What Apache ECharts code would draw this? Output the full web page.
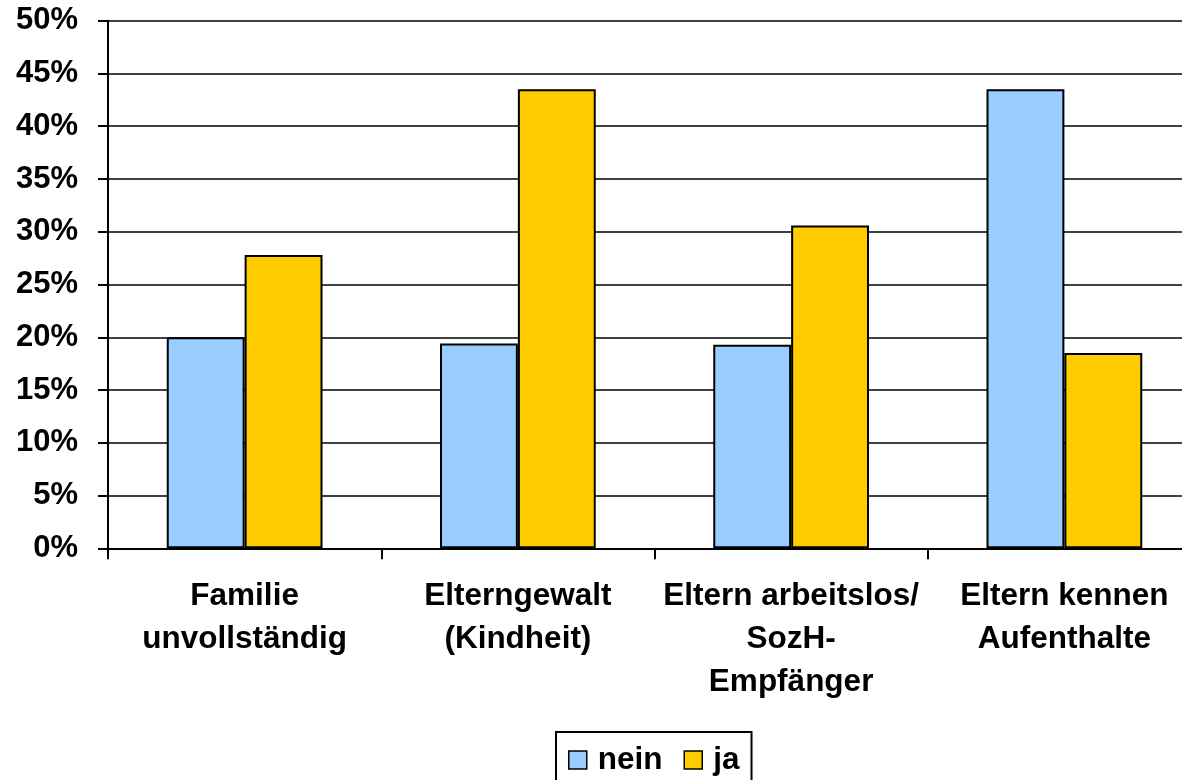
<!DOCTYPE html>
<html>
<head>
<meta charset="utf-8">
<script src="https://cdn.jsdelivr.net/npm/echarts@6/dist/echarts.min.js"></script>
<style>
  html, body { margin: 0; padding: 0; background: #fff; }
  #chart { width: 1182px; height: 780px; }
</style>
</head>
<body>
<div id="chart"></div>
<script>
var categories = ['Familie\nunvollständig', 'Elterngewalt\n(Kindheit)', 'Eltern arbeitslos/\nSozH-\nEmpfänger', 'Eltern kennen\nAufenthalte']
var neinValues = [20.0, 19.4, 19.3, 43.5]
var jaValues = [27.8, 43.5, 30.6, 18.5]
var seriesNames = ['nein', 'ja']

var font = "'Liberation Sans', Arial, sans-serif"
var myChart = echarts.init(document.getElementById('chart'))
var option = {
  animation: false,
  grid: {
    left: 108,
    width: 1093,
    top: 20.7,
    bottom: 231.7,
    containLabel: false,
    outerBoundsMode: 'none'
  },
  legend: {
    data: seriesNames,
    left: 556,
    top: 732,
    orient: 'horizontal',
    icon: 'rect',
    itemWidth: 18,
    itemHeight: 18,
    itemGap: 21,
    padding: [12, 12, 12, 12],
    borderColor: '#000',
    borderWidth: 2,
    itemStyle: { borderColor: '#000', borderWidth: 1.5 },
    textStyle: {
      color: '#000',
      fontFamily: font,
      fontWeight: 'bold',
      fontSize: 31.5,
      lineHeight: 31,
      padding: [0, 0, 0, 6]
    }
  },
  xAxis: {
    type: 'category',
    data: categories,
    axisLine: { lineStyle: { color: '#000', width: 2 } },
    axisTick: { show: true, length: 11, lineStyle: { color: '#000', width: 2 } },
    axisLabel: {
      color: '#000',
      fontFamily: font,
      fontWeight: 'bold',
      fontSize: 31.5,
      lineHeight: 43,
      margin: 27,
      interval: 0
    }
  },
  yAxis: {
    type: 'value',
    min: 0,
    max: 50,
    interval: 5,
    axisLine: { show: true, lineStyle: { color: '#000', width: 2 } },
    axisTick: { show: true, length: 10, lineStyle: { color: '#000', width: 2 } },
    axisLabel: {
      color: '#000',
      fontFamily: font,
      fontWeight: 'bold',
      fontSize: 31,
      margin: 30,
      formatter: '{value}%'
    },
    splitLine: { lineStyle: { color: '#000', width: 1.5 } }
  },
  series: [
    {
      name: seriesNames[0],
      type: 'bar',
      data: neinValues,
      barGap: 0,
      barCategoryGap: '43%',
      itemStyle: { color: '#99CCFF', borderColor: '#000', borderWidth: 2 }
    },
    {
      name: seriesNames[1],
      type: 'bar',
      data: jaValues,
      barGap: 0,
      barCategoryGap: '43%',
      itemStyle: { color: '#FFCC00', borderColor: '#000', borderWidth: 2 }
    }
  ]
}
myChart.setOption(option)
</script>
</body>
</html>
